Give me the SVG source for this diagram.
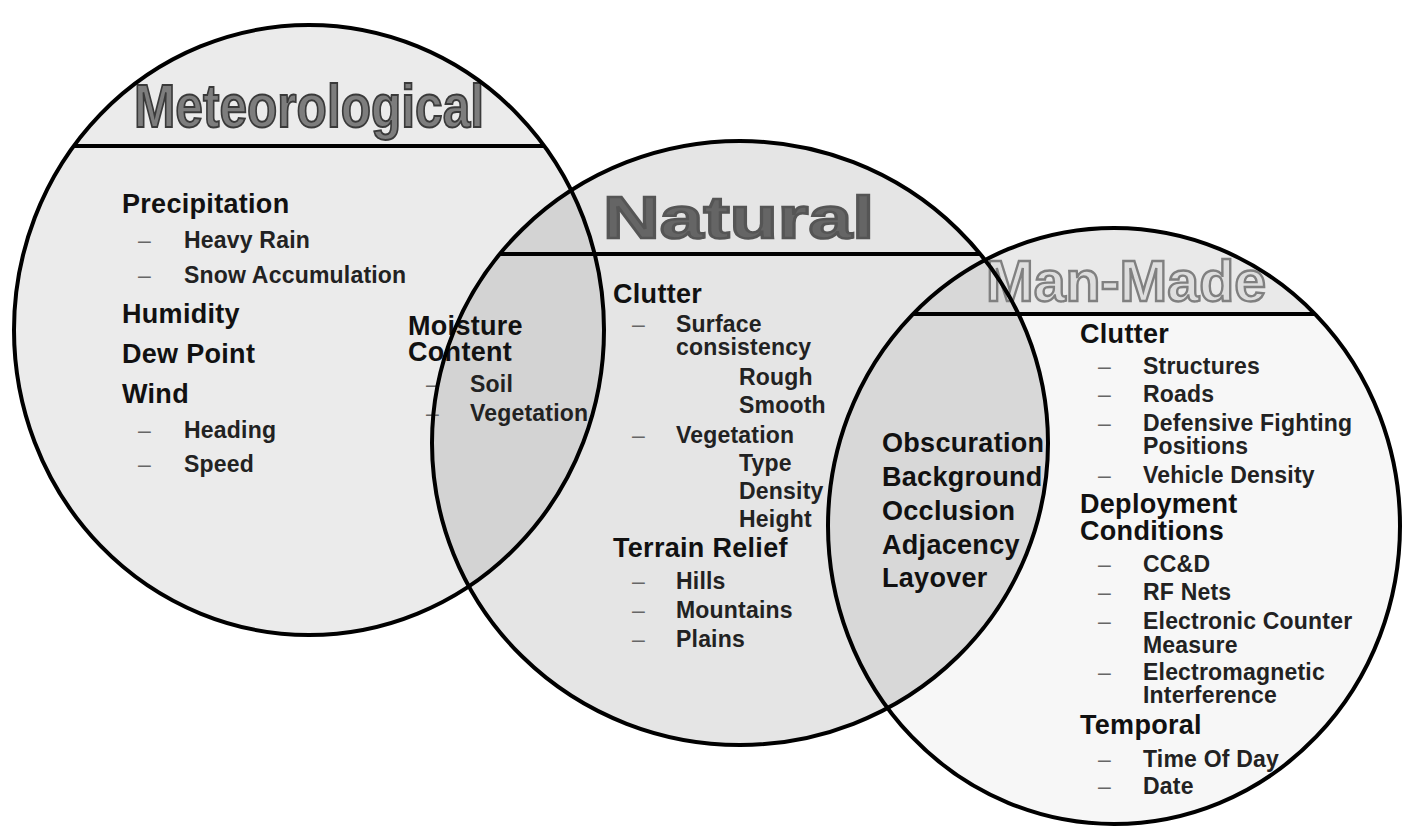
<svg xmlns="http://www.w3.org/2000/svg" width="1406" height="828" viewBox="0 0 1406 828">
  <defs>
    <style>
      text { font-family: "Liberation Sans", Arial, sans-serif; }
      .h { font-size: 27px; font-weight: bold; fill: #111; letter-spacing: 0.3px; }
      .s { font-size: 23px; font-weight: bold; fill: #222; letter-spacing: 0.2px; }
      .d { font-size: 23px; fill: #666; }
      .outline { fill: none; stroke: #000; stroke-width: 4; }
      .divider { stroke: #000; stroke-width: 4; }
      .t-met { font-size: 61px; font-weight: bold; fill: #7d7d7d; stroke: #3a3a3a; stroke-width: 2; }
      .t-nat { font-size: 60px; font-weight: bold; fill: #656565; stroke: #555; stroke-width: 2.5; }
      .t-man { font-size: 58px; font-weight: bold; fill: #dedede; stroke: #808080; stroke-width: 2.4; }
    </style>
    <clipPath id="clip-met"><ellipse cx="309" cy="330" rx="295" ry="305"/></clipPath>
    <clipPath id="clip-nat"><ellipse cx="740" cy="443" rx="308" ry="302"/></clipPath>
    <clipPath id="clip-man"><ellipse cx="1114" cy="526" rx="286" ry="298"/></clipPath>
  </defs>

  <rect width="1406" height="828" fill="#fff"/>

  <!-- region shading: each set, then the pairwise overlaps -->
  <g id="region-fills">
    <ellipse cx="309" cy="330" rx="295" ry="305" fill="#ebebeb"/>
    <ellipse cx="740" cy="443" rx="308" ry="302" fill="#e5e5e5"/>
    <ellipse cx="1114" cy="526" rx="286" ry="298" fill="#f7f7f7"/>
    <rect x="820" y="220" width="590" height="94" fill="#e9e9e9" clip-path="url(#clip-man)"/>
    <g clip-path="url(#clip-met)">
      <ellipse cx="740" cy="443" rx="308" ry="302" fill="#d3d3d3"/>
    </g>
    <g clip-path="url(#clip-nat)">
      <ellipse cx="1114" cy="526" rx="286" ry="298" fill="#d8d8d8"/>
    </g>
  </g>

  <g id="meteorological">
    <text class="t-met" x="134" y="127" textLength="350" lengthAdjust="spacingAndGlyphs">Meteorological</text>
    <text class="h" x="122" y="213">Precipitation</text>
    <text class="d" x="138" y="248">–</text><text class="s" x="184" y="248">Heavy Rain</text>
    <text class="d" x="138" y="283">–</text><text class="s" x="184" y="283">Snow Accumulation</text>
    <text class="h" x="122" y="323">Humidity</text>
    <text class="h" x="122" y="363">Dew Point</text>
    <text class="h" x="122" y="403">Wind</text>
    <text class="d" x="138" y="438">–</text><text class="s" x="184" y="438">Heading</text>
    <text class="d" x="138" y="472">–</text><text class="s" x="184" y="472">Speed</text>
  </g>

  <g id="meteorological-natural">
    <text class="h" x="408" y="335">Moisture</text>
    <text class="h" x="408" y="361">Content</text>
    <text class="d" x="426" y="392">–</text><text class="s" x="470" y="392">Soil</text>
    <text class="d" x="426" y="421">–</text><text class="s" x="470" y="421">Vegetation</text>
  </g>

  <g id="natural">
    <text class="t-nat" x="603" y="238" textLength="271" lengthAdjust="spacingAndGlyphs">Natural</text>
    <text class="h" x="613" y="303">Clutter</text>
    <text class="d" x="632" y="332">–</text><text class="s" x="676" y="332">Surface</text>
    <text class="s" x="676" y="355">consistency</text>
    <text class="s" x="739" y="385">Rough</text>
    <text class="s" x="739" y="413">Smooth</text>
    <text class="d" x="632" y="443">–</text><text class="s" x="676" y="443">Vegetation</text>
    <text class="s" x="739" y="471">Type</text>
    <text class="s" x="739" y="499">Density</text>
    <text class="s" x="739" y="527">Height</text>
    <text class="h" x="613" y="557">Terrain Relief</text>
    <text class="d" x="632" y="589">–</text><text class="s" x="676" y="589">Hills</text>
    <text class="d" x="632" y="618">–</text><text class="s" x="676" y="618">Mountains</text>
    <text class="d" x="632" y="647">–</text><text class="s" x="676" y="647">Plains</text>
  </g>

  <g id="natural-man-made">
    <text class="h" x="882" y="452">Obscuration</text>
    <text class="h" x="882" y="486">Background</text>
    <text class="h" x="882" y="520">Occlusion</text>
    <text class="h" x="882" y="554">Adjacency</text>
    <text class="h" x="882" y="587">Layover</text>
  </g>

  <g id="man-made">
    <text class="t-man" x="986" y="301" textLength="280" lengthAdjust="spacingAndGlyphs">Man-Made</text>
    <text class="h" x="1080" y="343">Clutter</text>
    <text class="d" x="1098" y="374">–</text><text class="s" x="1143" y="374">Structures</text>
    <text class="d" x="1098" y="402">–</text><text class="s" x="1143" y="402">Roads</text>
    <text class="d" x="1098" y="431">–</text><text class="s" x="1143" y="431">Defensive Fighting</text>
    <text class="s" x="1143" y="454">Positions</text>
    <text class="d" x="1098" y="483">–</text><text class="s" x="1143" y="483">Vehicle Density</text>
    <text class="h" x="1080" y="513">Deployment</text>
    <text class="h" x="1080" y="540">Conditions</text>
    <text class="d" x="1098" y="572">–</text><text class="s" x="1143" y="572">CC&amp;D</text>
    <text class="d" x="1098" y="600">–</text><text class="s" x="1143" y="600">RF Nets</text>
    <text class="d" x="1098" y="629">–</text><text class="s" x="1143" y="629">Electronic Counter</text>
    <text class="s" x="1143" y="653">Measure</text>
    <text class="d" x="1098" y="680">–</text><text class="s" x="1143" y="680">Electromagnetic</text>
    <text class="s" x="1143" y="703">Interference</text>
    <text class="h" x="1080" y="734">Temporal</text>
    <text class="d" x="1098" y="767">–</text><text class="s" x="1143" y="767">Time Of Day</text>
    <text class="d" x="1098" y="794">–</text><text class="s" x="1143" y="794">Date</text>
  </g>

  <!-- set boundaries and title dividers, drawn over the labels -->
  <g id="outlines">
    <line class="divider" x1="74" y1="146" x2="544" y2="146"/>
    <line class="divider" x1="500" y1="254" x2="980" y2="254"/>
    <line class="divider" x1="913" y1="314" x2="1315" y2="314"/>
    <ellipse class="outline" cx="309" cy="330" rx="295" ry="305"/>
    <ellipse class="outline" cx="740" cy="443" rx="308" ry="302"/>
    <ellipse class="outline" cx="1114" cy="526" rx="286" ry="298"/>
  </g>
</svg>
